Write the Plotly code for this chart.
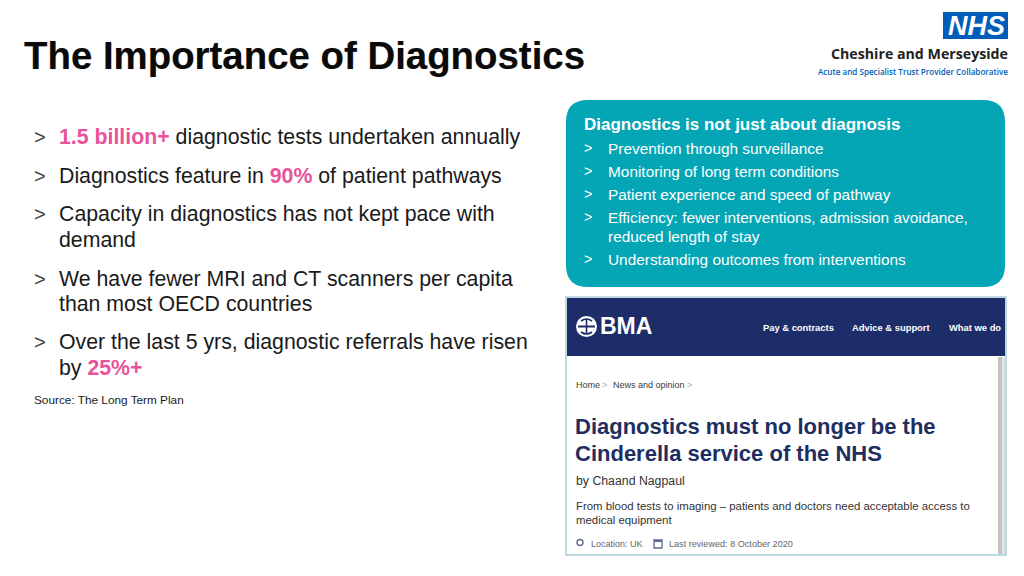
import plotly.graph_objects as go

# ---------------- content ----------------
TITLE = "The Importance of Diagnostics"
HIGHLIGHTS = ["1.5 billion+", "90%", "25%+"]
LEFT_BULLETS = [
    ["{0} diagnostic tests undertaken annually"],
    ["Diagnostics feature in {1} of patient pathways"],
    ["Capacity in diagnostics has not kept pace with", "demand"],
    ["We have fewer MRI and CT scanners per capita", "than most OECD countries"],
    ["Over the last 5 yrs, diagnostic referrals have risen", "by {2}"],
]
SOURCE = "Source: The Long Term Plan"

BOX_HEADER = "Diagnostics is not just about diagnosis"
BOX_BULLETS = [
    ["Prevention through surveillance"],
    ["Monitoring of long term conditions"],
    ["Patient experience and speed of pathway"],
    ["Efficiency: fewer interventions, admission avoidance,", "reduced length of stay"],
    ["Understanding outcomes from interventions"],
]

ORG_NAME = "Cheshire and Merseyside"
ORG_SUB = "Acute and Specialist Trust Provider Collaborative"

BMA_NAV = ["Pay & contracts", "Advice & support", "What we do"]
BMA_CRUMBS = ["Home", "News and opinion"]
BMA_HEADLINE = ["Diagnostics must no longer be the", "Cinderella service of the NHS"]
BMA_BYLINE = "by Chaand Nagpaul"
BMA_STANDFIRST = ["From blood tests to imaging \u2013 patients and doctors need acceptable access to",
                  "medical equipment"]
BMA_META = ["Location: UK", "Last reviewed: 8 October 2020"]

# ---------------- style ----------------
FONT = "Liberation Sans, Arial, Helvetica, sans-serif"
PINK = "#E9539B"
TEAL = "#04A5B5"
NAVY = "#1D2D69"
NHS_BLUE = "#005EB8"
DARK = "#1A1A1A"
ICON = "#5B6A8E"
OFF = 8  # page body margin compensation

fig = go.Figure()
shapes = []
ann = []


def txt(x, y, text, size, color=DARK, xanchor="left", yanchor="middle", family=FONT, weight=None, shadow=None):
    f = dict(size=size, color=color, family=family)
    if weight:
        f["weight"] = weight
    if shadow:
        f["shadow"] = shadow
    ann.append(dict(x=x, y=y, xref="x", yref="y", text=text, showarrow=False,
                    xanchor=xanchor, yanchor=yanchor, align="left", font=f, borderpad=0))


def rrect(x0, y0, x1, y1, r, fill, line=None):
    p = (f"M {x0+r},{y0} L {x1-r},{y0} Q {x1},{y0} {x1},{y0+r} L {x1},{y1-r} Q {x1},{y1} {x1-r},{y1} "
         f"L {x0+r},{y1} Q {x0},{y1} {x0},{y1-r} L {x0},{y0+r} Q {x0},{y0} {x0+r},{y0} Z")
    shapes.append(dict(type="path", path=p, xref="x", yref="y", fillcolor=fill,
                       line=dict(width=0 if line is None else 1, color=line or fill)))


def rect(x0, y0, x1, y1, fill, lw=0, lc=None):
    shapes.append(dict(type="rect", x0=x0, y0=y0, x1=x1, y1=y1, xref="x", yref="y",
                       fillcolor=fill, line=dict(width=lw, color=lc or fill)))


# ---- title
txt(23, 55, f"<b>{TITLE}</b>", 38.4, color="#0A0A0A", shadow="0px 0px 1px rgba(0,0,0,0.3)")

# ---- NHS logo
rect(943, 12, 1008, 39, NHS_BLUE)
txt(976, 26, "<b><i>NHS</i></b>", 27, color="white", xanchor="center", family="Liberation Sans, Arial")
txt(1009, 53, f"<b>{ORG_NAME}</b>", 14.2, color="#222222", xanchor="right", family="Open Sans, Liberation Sans")
txt(1009, 71, ORG_SUB, 8.1, color=NHS_BLUE, xanchor="right", family="Open Sans, Liberation Sans", weight=600)

# ---- left bullets
hl = [f"<b><span style='color:{PINK}'>{h}</span></b>" for h in HIGHLIGHTS]
left_y = [[137], [176], [214, 240], [279, 304], [342, 368]]
for lines, ys in zip(LEFT_BULLETS, left_y):
    txt(33, ys[0], "&gt;", 20, color="#444444")
    for line, y in zip(lines, ys):
        txt(58, y, line.format(*hl), 21.3)
txt(33, 400, SOURCE, 11.8)

# ---- teal box
rrect(566, 100, 1005, 287, 22, TEAL)
txt(583, 124, f"<b>{BOX_HEADER}</b>", 17, color="white")
box_y = [[148], [171], [194], [217, 236], [259]]
for lines, ys in zip(BOX_BULLETS, box_y):
    txt(583, ys[0], "&gt;", 14.5, color="white")
    for line, y in zip(lines, ys):
        txt(607, y, line, 15.4, color="white")

# ---- BMA screenshot
rect(566, 297, 1006, 555, "white", 1.5, "#A9CBD8")
rect(567, 298, 1005, 356, NAVY)
rect(998, 357, 1002, 554, "#C4C4C4")
rect(1002, 357, 1005, 554, "#E2E2E2")
# BMA emblem
shapes.append(dict(type="circle", x0=576, y0=316, x1=597, y1=337, xref="x", yref="y",
                   fillcolor="white", line=dict(width=0)))
shapes.append(dict(type="line", x0=578, y0=326.5, x1=595, y1=326.5, xref="x", yref="y",
                   line=dict(color=NAVY, width=2)))
shapes.append(dict(type="path", path="M 581,321 Q 586.5,317 592,321 M 581,332 Q 586.5,336 592,332",
                   xref="x", yref="y", line=dict(color=NAVY, width=1.6)))
shapes.append(dict(type="line", x0=586.5, y0=319, x1=586.5, y1=334, xref="x", yref="y",
                   line=dict(color=NAVY, width=1.6)))
txt(599, 326, "<b>BMA</b>", 23, color="white")
for label, x in zip(BMA_NAV, [762, 851, 948]):
    txt(x, 327, f"<b>{label}</b>", 9.4, color="white")

txt(575, 385, BMA_CRUMBS[0], 9, color="#3A3A3A")
txt(601, 385, "&gt;", 9, color="#AAAAAA")
txt(612, 385, BMA_CRUMBS[1], 9, color="#3A3A3A")
txt(686, 385, "&gt;", 9, color="#AAAAAA")

for line, y in zip(BMA_HEADLINE, [426, 453]):
    txt(574, y, f"<b>{line}</b>", 22, color="#1E2E60")
txt(575, 481, BMA_BYLINE, 12.3, color="#333333")
for line, y in zip(BMA_STANDFIRST, [506, 520]):
    txt(575, y, line, 11.4, color="#333333")

# meta icons
shapes.append(dict(type="circle", x0=577, y0=539.5, x1=583, y1=545.5, xref="x", yref="y",
                   fillcolor="white", line=dict(color=ICON, width=1.4)))
rect(654, 540, 662, 548, "white", 1.3, ICON)
rect(654, 540, 662, 542, ICON)
txt(590, 544, BMA_META[0], 9, color="#666666")
txt(668, 544, BMA_META[1], 9.1, color="#666666")

fig.update_layout(
    width=1024, height=576,
    margin=dict(l=0, r=0, t=0, b=0),
    paper_bgcolor="white", plot_bgcolor="white",
    xaxis=dict(range=[OFF, 1024 + OFF], visible=False, fixedrange=True),
    yaxis=dict(range=[576 + OFF, OFF], visible=False, fixedrange=True),
    shapes=shapes, annotations=ann, showlegend=False,
)
fig.write_html("out.html", config={"displayModeBar": False})
